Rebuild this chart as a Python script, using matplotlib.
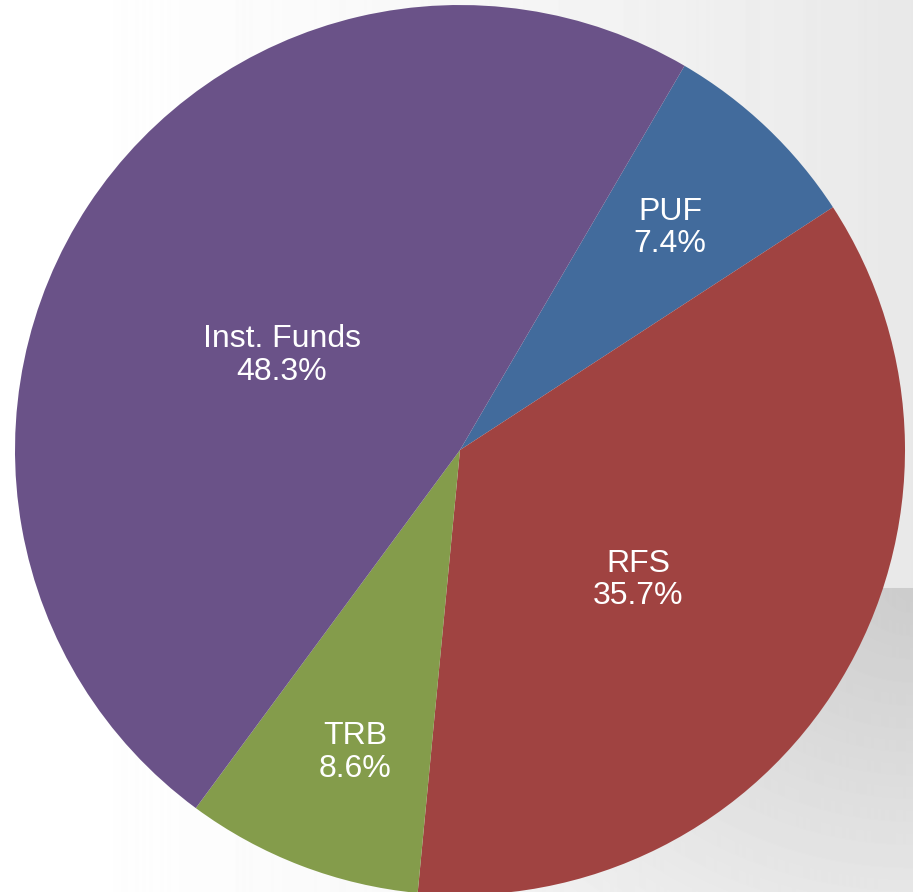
import numpy as np
import matplotlib.pyplot as plt

# Share of funding by source (percent)
labels = ['PUF', 'RFS', 'TRB', 'Inst. Funds']
shares = [7.4, 35.7, 8.6, 48.3]
colors = ['#426B9C', '#A04341', '#849C4B', '#6A5288']

# label anchor points in pie units (radius = 1)
label_xy = [(0.472, 0.499), (0.40, -0.292), (-0.236, -0.679), (-0.40, 0.213)]

W, H = 913, 892
fig = plt.figure(figsize=(W / 100, H / 100), dpi=100)

# slide-like grey background
bg_ax = fig.add_axes([0, 0, 1, 1])
xx, yy = np.meshgrid(np.linspace(0, 1, W), np.linspace(0, 1, H))
bg = 1.0 - 0.09 * xx ** 1.5
low = yy > 588 / H
d = np.sqrt((1 - xx) ** 2 + ((yy - 588 / H) * 1.2) ** 2)
bg = np.where(low, np.clip(0.80 + 0.25 * d, 0.80, bg), bg)
bg_ax.imshow(bg, cmap='gray', vmin=0, vmax=1, aspect='auto',
             extent=[0, 1, 0, 1], origin='upper')
bg_ax.axis('off')

# pie centred at (460, 450) px with radius 445 px
cx, cy, r = 460, 450, 445
ax = fig.add_axes([(cx - r) / W, (H - cy - r) / H, 2 * r / W, 2 * r / H])
ax.pie(shares, colors=colors, startangle=59.7, counterclock=False,
       radius=1, wedgeprops=dict(linewidth=0))
for lab, val, (x, y) in zip(labels, shares, label_xy):
    ax.text(x, y, f'{lab}\n{val:.1f}%', color='white', fontsize=23,
            family='Liberation Sans', ha='center', va='center',
            linespacing=1.12)
ax.set_xlim(-1, 1)
ax.set_ylim(-1, 1)
ax.axis('off')

fig.savefig('out.png', dpi=100)
